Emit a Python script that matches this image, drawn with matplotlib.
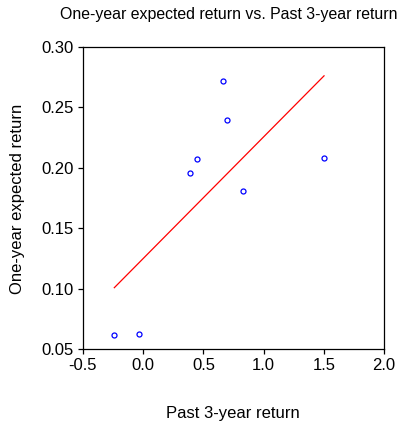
import numpy as np
import matplotlib
matplotlib.use("Agg")
import matplotlib.pyplot as plt

plt.rcParams['font.family'] = ['Liberation Sans', 'DejaVu Sans']

# Past 3-year return vs one-year expected return
past_3yr = [-0.24, -0.032, 0.391, 0.449, 0.663, 0.693, 0.831, 1.502]
expected_1yr = [0.0613, 0.0627, 0.1955, 0.2075, 0.2719, 0.2398, 0.1808, 0.2084]

x_ticks = [-0.5, 0.0, 0.5, 1.0, 1.5, 2.0]
y_ticks = [0.05, 0.10, 0.15, 0.20, 0.25, 0.30]

fig = plt.figure(figsize=(4.09, 4.23), dpi=100)
ax = fig.add_axes([83 / 409, 1 - 349 / 423, (384 - 83) / 409, (349 - 47) / 423])

x = np.array(past_3yr)
y = np.array(expected_1yr)
ax.plot(x, y, linestyle='none', marker='o', markersize=3.6,
        markerfacecolor='none', markeredgecolor='#0000ff', markeredgewidth=0.9)

# least-squares fit line over the data range
slope, intercept = np.polyfit(x, y, 1)
xs = np.array([x.min(), x.max()])
ax.plot(xs, slope * xs + intercept, color='#ff0000', linewidth=0.9)

ax.set_xlim(-0.5, 2.0)
ax.set_ylim(0.05, 0.30)
ax.set_xticks(x_ticks)
ax.set_xticklabels([f"{t:.1f}" for t in x_ticks])
ax.set_yticks(y_ticks)
ax.set_yticklabels([f"{t:.2f}" for t in y_ticks])
ax.tick_params(direction='out', length=3.8, width=0.9, labelsize=12)
ax.tick_params(axis='x', pad=2.5)
ax.tick_params(axis='y', pad=3)
for s in ax.spines.values():
    s.set_linewidth(0.9)

fig.text(229 / 409, 1 - 14 / 423, "One-year expected return vs. Past 3-year return",
         ha='center', va='center', fontsize=11.4)
fig.text(233 / 409, 1 - 413 / 423, "Past 3-year return", ha='center', va='center', fontsize=12)
fig.text(18 / 409, 1 - 199 / 423, "One-year expected return", ha='center', va='center',
         rotation=90, fontsize=12)

fig.savefig("out.png", dpi=100)
